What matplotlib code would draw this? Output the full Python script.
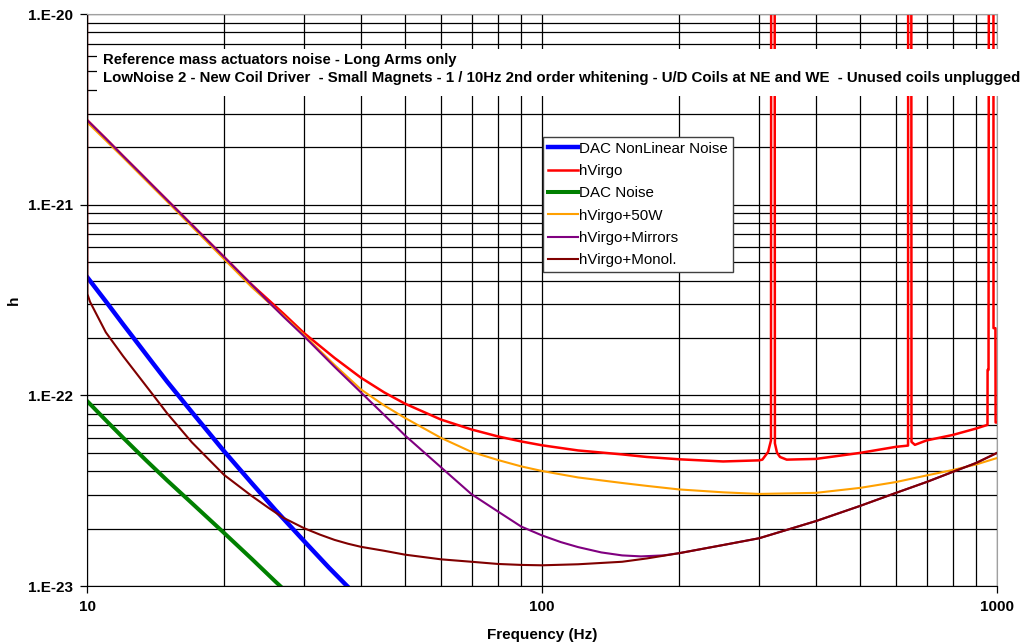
import matplotlib
matplotlib.use('Agg')
import matplotlib.pyplot as plt
from matplotlib.patches import Rectangle
from matplotlib.ticker import FixedLocator, FixedFormatter, LogLocator, NullFormatter

plt.rcParams['font.family'] = ['Liberation Sans', 'DejaVu Sans']

# data (frequency in Hz, strain h)
dac_nl_f = [10, 11, 12, 13, 14, 15, 17, 20, 23, 26, 30, 34, 38]
dac_nl_h = [4.18e-22, 3.11e-22, 2.36e-22, 1.84e-22, 1.46e-22, 1.18e-22, 8.17e-23,
            5.1e-23, 3.47e-23, 2.49e-23, 1.72e-23, 1.25e-23, 9.55e-24]

virgo_f = [10, 11, 12, 13, 14, 15, 17, 20, 23, 25, 27, 30, 35, 40, 45, 50, 60, 70, 80,
           90, 100, 120, 150, 170, 200, 250, 300, 305, 314, 318.6, 319, 324.5, 325,
           328.5, 333.5, 345, 400, 500, 600, 637.5, 638, 648, 648.7, 660, 700, 800, 900,
           953, 953.5, 958, 960, 982, 982.5, 992, 993, 1000]
virgo_h = [2.78e-21, 2.22e-21, 1.80e-21, 1.488e-21, 1.246e-21, 1.057e-21, 7.84e-22,
           5.32e-22, 3.81e-22, 3.18e-22, 2.69e-22, 2.12e-22, 1.571e-22, 1.237e-22,
           1.036e-22, 9.04e-23, 7.46e-23, 6.62e-23, 6.09e-23, 5.73e-23, 5.47e-23, 5.14e-23,
           4.90e-23, 4.75e-23, 4.62e-23, 4.50e-23, 4.56e-23, 4.6e-23, 5.05e-23, 5.8e-23,
           1e-19, 1e-19, 5.6e-23, 5.0e-23, 4.75e-23, 4.6e-23, 4.64e-23, 4.99e-23, 5.37e-23,
           5.45e-23, 1e-19, 1e-19, 5.7e-23, 5.5e-23, 5.8e-23, 6.2e-23, 6.7e-23, 7.0e-23,
           1.36e-22, 1.36e-22, 1e-19, 1e-19, 2.25e-22, 2.25e-22, 7.2e-23, 7.2e-23]

dac_f = [10, 11, 12, 13.5, 15, 17, 20, 23, 26, 28]
dac_h = [9.35e-23, 7.4e-23, 6.0e-23, 4.55e-23, 3.58e-23, 2.72e-23, 1.9e-23, 1.39e-23,
         1.05e-23, 8.9e-24]

w50_f = [10, 11, 12, 13, 14, 15, 17, 20, 23, 25, 27, 30, 35, 40, 45, 50, 60, 70, 80, 90,
         100, 120, 150, 170, 200, 250, 300, 400, 500, 600, 700, 800, 900, 1000]
w50_h = [2.71e-21, 2.17e-21, 1.77e-21, 1.461e-21, 1.224e-21, 1.039e-21, 7.68e-22,
         5.19e-22, 3.70e-22, 3.09e-22, 2.62e-22, 2.07e-22, 1.443e-22, 1.074e-22, 8.85e-23,
         7.61e-23, 5.98e-23, 5.05e-23, 4.58e-23, 4.24e-23, 4.01e-23, 3.71e-23, 3.47e-23,
         3.35e-23, 3.21e-23, 3.10e-23, 3.04e-23, 3.08e-23, 3.27e-23, 3.51e-23, 3.80e-23,
         4.06e-23, 4.34e-23, 4.69e-23]

mirr_f = [10, 11, 12, 13, 14, 15, 17, 20, 23, 25, 27, 30, 35, 40, 45, 50, 60, 70, 80, 90,
          100, 110, 120, 135, 150, 165, 185, 200, 250, 300, 400, 500, 600, 700, 800, 900,
          1000]
mirr_h = [2.78e-21, 2.22e-21, 1.80e-21, 1.488e-21, 1.246e-21, 1.057e-21, 7.84e-22,
          5.32e-22, 3.81e-22, 3.11e-22, 2.59e-22, 2.04e-22, 1.41e-22, 1.036e-22, 7.89e-23,
          6.16e-23, 4.19e-23, 3.03e-23, 2.46e-23, 2.05e-23, 1.842e-23, 1.699e-23, 1.60e-23,
          1.50e-23, 1.447e-23, 1.43e-23, 1.447e-23, 1.486e-23, 1.64e-23, 1.78e-23, 2.19e-23,
          2.63e-23, 3.08e-23, 3.51e-23, 3.97e-23, 4.42e-23, 4.99e-23]

mono_f = [10, 10.02, 10.15, 11, 12, 13, 14, 15, 17, 20, 23, 25, 27, 30, 32.5, 35, 37.5,
          40, 45, 50, 60, 70, 80, 90, 100, 120, 150, 170, 200, 250, 300, 400, 500, 600,
          700, 800, 900, 1000]
mono_h = [1e-19, 3.40e-22, 3.10e-22, 2.14e-22, 1.607e-22, 1.255e-22, 9.98e-23, 8.05e-23,
          5.67e-23, 3.83e-23, 2.97e-23, 2.58e-23, 2.28e-23, 2.01e-23, 1.86e-23, 1.745e-23,
          1.665e-23, 1.605e-23, 1.53e-23, 1.46e-23, 1.38e-23, 1.34e-23, 1.305e-23, 1.29e-23,
          1.284e-23, 1.30e-23, 1.34e-23, 1.395e-23, 1.486e-23, 1.64e-23, 1.78e-23, 2.19e-23,
          2.63e-23, 3.08e-23, 3.51e-23, 3.97e-23, 4.42e-23, 4.99e-23]

y_ticks = [1e-23, 1e-22, 1e-21, 1e-20]
y_labels = ['1.E-23', '1.E-22', '1.E-21', '1.E-20']
x_ticks = [10, 100, 1000]
x_labels = ['10', '100', '1000']

title1 = 'Reference mass actuators noise - Long Arms only'
title2 = ('LowNoise 2 - New Coil Driver  - Small Magnets - 1 / 10Hz 2nd order whitening'
          ' - U/D Coils at NE and WE  - Unused coils unplugged')

fig = plt.figure(figsize=(10.24, 6.43), dpi=100)
ax = fig.add_axes([87/1024, 1 - 586/643, 910/1024, 572/643])

ax.plot(dac_nl_f, dac_nl_h, color='#0000ff', lw=3.2, label='DAC NonLinear Noise')
ax.plot(virgo_f, virgo_h, color='#ff0000', lw=1.8, label='hVirgo')
ax.plot(dac_f, dac_h, color='#008000', lw=2.9, label='DAC Noise')
ax.plot(w50_f, w50_h, color='#ffa000', lw=1.5, label='hVirgo+50W')
ax.plot(mirr_f, mirr_h, color='#800080', lw=1.5, label='hVirgo+Mirrors')
ax.plot(mono_f, mono_h, color='#800000', lw=1.5, label='hVirgo+Monol.')

ax.set_xscale('log')
ax.set_yscale('log')
ax.set_xlim(10, 1000)
ax.set_ylim(1e-23, 1e-20)

ax.xaxis.set_major_locator(FixedLocator(x_ticks))
ax.xaxis.set_major_formatter(FixedFormatter(x_labels))
ax.yaxis.set_major_locator(FixedLocator(y_ticks))
ax.yaxis.set_major_formatter(FixedFormatter(y_labels))
for a in (ax.xaxis, ax.yaxis):
    a.set_minor_locator(LogLocator(base=10, subs=range(2, 10)))
    a.set_minor_formatter(NullFormatter())
ax.grid(True, which='both', color='black', lw=0.9)
ax.tick_params(which='major', direction='out', length=5, width=0.9, pad=5)
ax.tick_params(which='minor', length=0)
for lab in ax.get_xticklabels() + ax.get_yticklabels():
    lab.set_fontweight('bold')
    lab.set_fontsize(11)

for s in ('top', 'right'):
    ax.spines[s].set_color('#a0a0a0')
for s in ('left', 'bottom'):
    ax.spines[s].set_color('black')

ax.set_xlabel('Frequency (Hz)', weight='bold', fontsize=11, labelpad=10)
fig.text(14/1024, 1 - 300/643, 'h', weight='bold', fontsize=11, rotation=90,
         ha='center', va='center')

leg = ax.legend(loc='upper left', bbox_to_anchor=(543/1024, 1 - 137/643),
                bbox_transform=fig.transFigure, borderaxespad=0, fancybox=False,
                edgecolor='#404040', framealpha=1, fontsize=10.9, handlelength=2.0,
                handletextpad=0.1, borderpad=0.3, labelspacing=0.55)
leg.get_frame().set_linewidth(1)
leg.set_zorder(20)

# white block behind the two title lines
fig.patches.append(Rectangle((97/1024, 1 - 96/643), 923/1024, 47/643,
                             transform=fig.transFigure, facecolor='white',
                             edgecolor='none', zorder=15))
t1 = fig.text(103/1024, 1 - 60/643, title1, weight='bold', fontsize=11,
              va='center', zorder=16)
t2 = fig.text(103/1024, 1 - 78/643, title2, weight='bold', fontsize=11,
              va='center', zorder=16)

# squeeze the title lines to the widths they have in the reference
r = fig.canvas.get_renderer()
for t, w in ((t1, 354), (t2, 925)):
    t.set_fontsize(11 * w / t.get_window_extent(r).width)

fig.savefig('out.png', dpi=100)
